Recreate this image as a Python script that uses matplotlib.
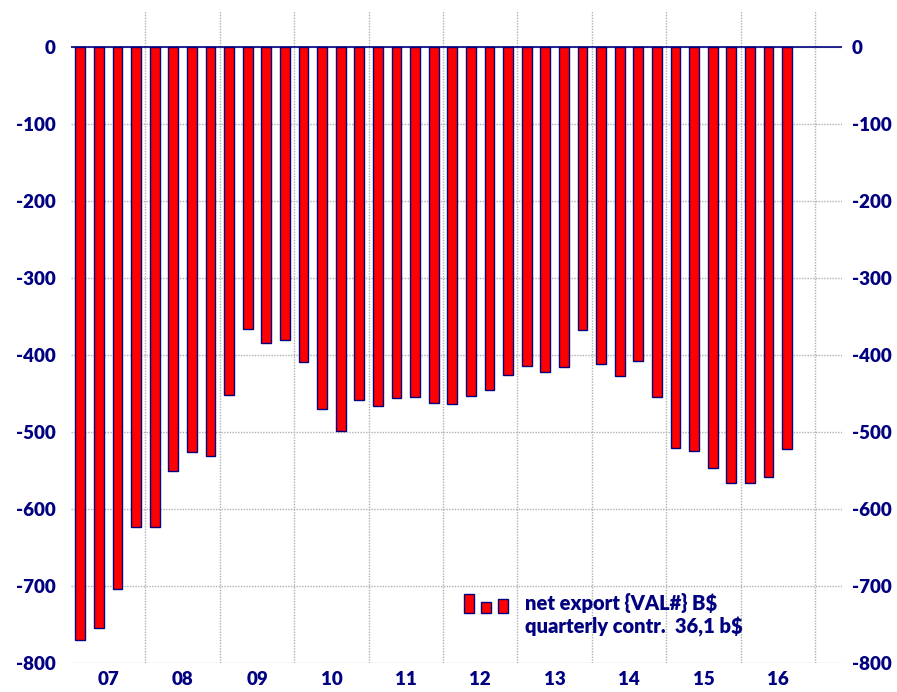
import numpy as np
import matplotlib.pyplot as plt
from matplotlib.patches import Rectangle

# quarterly net export, 2007 Q1 .. 2016 Q3
years = ['07', '08', '09', '10', '11', '12', '13', '14', '15', '16']
net_export = [-770, -755, -704, -623,
              -623, -551, -526, -531,
              -452, -366, -384, -381,
              -409, -470, -499, -458,
              -466, -456, -455, -462,
              -464, -453, -446, -426,
              -414, -422, -416, -368,
              -412, -427, -408, -455,
              -521, -525, -547, -566,
              -566, -558, -522]
y_ticks = [0, -100, -200, -300, -400, -500, -600, -700, -800]

navy = '#000080'
plt.rcParams['font.family'] = ['Lato', 'DejaVu Sans']
W = 'heavy'
FS = 13.5

fig = plt.figure(figsize=(8.97, 6.92), dpi=100)
ax = fig.add_axes([71/897, 29/692, 771/897, 653/692])

x = np.arange(len(net_export))
ax.bar(x, net_export, width=0.53, color='#ff0000', edgecolor=navy, linewidth=1, zorder=3)
ax.axhline(0, color=navy, lw=1.2, zorder=4)

ax.set_xlim(-0.5, 40.95)
ax.set_ylim(-800, 48)

# year labels centred on each block of 4 quarters, grid at year boundaries
ax.set_xticks([1.5 + 4*k for k in range(len(years))])
ax.set_xticklabels(years, fontweight=W)
ax.set_xticks([-0.5 + 4*k for k in range(1, len(years) + 1)], minor=True)
ax.set_yticks(y_ticks)
ax.set_yticklabels([str(v) for v in y_ticks], fontweight=W)

ax.grid(True, which='minor', axis='x', color='#b0b0b0', ls=(0, (1, 1)), lw=1, zorder=0)
ax.grid(True, which='major', axis='y', color='#b0b0b0', ls=(0, (1, 1)), lw=1, zorder=0)
ax.tick_params(axis='both', which='both', length=0)
ax.tick_params(axis='y', labelsize=FS, labelcolor=navy, pad=11)
ax.tick_params(axis='x', labelsize=FS, labelcolor=navy, pad=6)

# mirrored labels on the right
ax2 = ax.twinx()
ax2.set_ylim(ax.get_ylim())
ax2.set_yticks(y_ticks)
ax2.set_yticklabels([str(v) for v in y_ticks], fontweight=W)
ax2.tick_params(axis='y', length=0, labelsize=FS, labelcolor=navy, pad=7)

for a in (ax, ax2):
    for s in a.spines.values():
        s.set_visible(False)

# legend: small bar icon + two text lines
H = 692
for (x0, x1, ytop) in [(464, 474, 594), (481, 491, 602), (498, 508, 599)]:
    fig.patches.append(Rectangle((x0/897, (H-613)/H), (x1-x0)/897, (613-ytop)/H,
                                 transform=fig.transFigure, facecolor='#ff0000',
                                 edgecolor=navy, lw=1, zorder=5))
fig.text(525/897, (H-603)/H, 'net export {VAL#} B$', color=navy, fontsize=14.5,
         fontweight=W, va='center', ha='left')
fig.text(525/897, (H-627)/H, 'quarterly contr.  36,1 b$', color=navy, fontsize=14.5,
         fontweight=W, va='center', ha='left')

fig.savefig('out.png', dpi=100)
